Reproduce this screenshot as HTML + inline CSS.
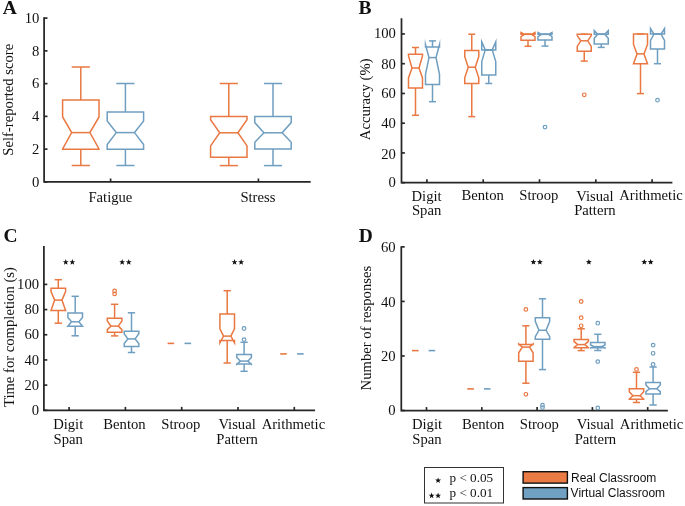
<!DOCTYPE html>
<html><head><meta charset="utf-8"><style>
html,body{margin:0;padding:0;background:#fff;}
body{width:685px;height:506px;overflow:hidden;}
svg{display:block;will-change:transform;}
text{fill:#111;}
</style></head><body>
<svg width="685" height="506" viewBox="0 0 685 506">
<text x="2.8" y="14.3" text-anchor="start" font-family="&quot;Liberation Serif&quot;, serif" font-size="19.5" font-weight="bold" >A</text>
<path d="M44.1,18.1 L44.1,181.9 L309.8,181.9" fill="none" stroke="#262626" stroke-width="1.75" stroke-linecap="square"/>
<line x1="44.1" y1="181.9" x2="47.5" y2="181.9" stroke="#262626" stroke-width="1.6624999999999999"/>
<text x="39.3" y="186.6" text-anchor="end" font-family="&quot;Liberation Serif&quot;, serif" font-size="14.67" font-weight="normal" >0</text>
<line x1="44.1" y1="149.14" x2="47.5" y2="149.14" stroke="#262626" stroke-width="1.6624999999999999"/>
<text x="39.3" y="153.84" text-anchor="end" font-family="&quot;Liberation Serif&quot;, serif" font-size="14.67" font-weight="normal" >2</text>
<line x1="44.1" y1="116.38" x2="47.5" y2="116.38" stroke="#262626" stroke-width="1.6624999999999999"/>
<text x="39.3" y="121.08" text-anchor="end" font-family="&quot;Liberation Serif&quot;, serif" font-size="14.67" font-weight="normal" >4</text>
<line x1="44.1" y1="83.62" x2="47.5" y2="83.62" stroke="#262626" stroke-width="1.6624999999999999"/>
<text x="39.3" y="88.32" text-anchor="end" font-family="&quot;Liberation Serif&quot;, serif" font-size="14.67" font-weight="normal" >6</text>
<line x1="44.1" y1="50.86" x2="47.5" y2="50.86" stroke="#262626" stroke-width="1.6624999999999999"/>
<text x="39.3" y="55.56" text-anchor="end" font-family="&quot;Liberation Serif&quot;, serif" font-size="14.67" font-weight="normal" >8</text>
<line x1="44.1" y1="18.1" x2="47.5" y2="18.1" stroke="#262626" stroke-width="1.6624999999999999"/>
<text x="39.3" y="22.8" text-anchor="end" font-family="&quot;Liberation Serif&quot;, serif" font-size="14.67" font-weight="normal" >10</text>
<line x1="110.6" y1="181.9" x2="110.6" y2="178.5" stroke="#262626" stroke-width="1.6624999999999999"/>
<line x1="258.4" y1="181.9" x2="258.4" y2="178.5" stroke="#262626" stroke-width="1.6624999999999999"/>
<text x="110.4" y="201.5" text-anchor="middle" font-family="&quot;Liberation Serif&quot;, serif" font-size="14.67" font-weight="normal" >Fatigue</text>
<text x="257.9" y="201.5" text-anchor="middle" font-family="&quot;Liberation Serif&quot;, serif" font-size="14.67" font-weight="normal" >Stress</text>
<text x="0" y="0" text-anchor="middle" font-family="&quot;Liberation Serif&quot;, serif" font-size="14.67" transform="translate(13,99.7) rotate(-90)">Self-reported score</text>
<polygon points="62.6,149.2 62.6,148.9 71.7,132.6 62.6,117 62.6,99.9 99,99.9 99,117 89.9,132.6 99,148.9 99,149.2" fill="none" stroke="#E97842" stroke-width="1.5" stroke-linejoin="miter" stroke-miterlimit="10"/>
<line x1="71.7" y1="132.6" x2="89.9" y2="132.6" stroke="#E97842" stroke-width="1.5"/>
<line x1="80.8" y1="99.9" x2="80.8" y2="67" stroke="#E97842" stroke-width="1.5"/>
<line x1="71.7" y1="67" x2="89.9" y2="67" stroke="#E97842" stroke-width="1.5"/>
<line x1="80.8" y1="149.2" x2="80.8" y2="165.5" stroke="#E97842" stroke-width="1.5"/>
<line x1="71.7" y1="165.5" x2="89.9" y2="165.5" stroke="#E97842" stroke-width="1.5"/>
<polygon points="107.2,149.2 107.2,144.6 116.3,132.6 107.2,120.9 107.2,112 143.6,112 143.6,120.9 134.5,132.6 143.6,144.6 143.6,149.2" fill="none" stroke="#6F9EC0" stroke-width="1.5" stroke-linejoin="miter" stroke-miterlimit="10"/>
<line x1="116.3" y1="132.6" x2="134.5" y2="132.6" stroke="#6F9EC0" stroke-width="1.5"/>
<line x1="125.4" y1="112" x2="125.4" y2="83.5" stroke="#6F9EC0" stroke-width="1.5"/>
<line x1="116.3" y1="83.5" x2="134.5" y2="83.5" stroke="#6F9EC0" stroke-width="1.5"/>
<line x1="125.4" y1="149.2" x2="125.4" y2="165.5" stroke="#6F9EC0" stroke-width="1.5"/>
<line x1="116.3" y1="165.5" x2="134.5" y2="165.5" stroke="#6F9EC0" stroke-width="1.5"/>
<polygon points="210.6,157.3 210.6,145.9 219.7,132.8 210.6,119.8 210.6,116.6 247,116.6 247,119.8 237.9,132.8 247,145.9 247,157.3" fill="none" stroke="#E97842" stroke-width="1.5" stroke-linejoin="miter" stroke-miterlimit="10"/>
<line x1="219.7" y1="132.8" x2="237.9" y2="132.8" stroke="#E97842" stroke-width="1.5"/>
<line x1="228.8" y1="116.6" x2="228.8" y2="83.5" stroke="#E97842" stroke-width="1.5"/>
<line x1="219.7" y1="83.5" x2="237.9" y2="83.5" stroke="#E97842" stroke-width="1.5"/>
<line x1="228.8" y1="157.3" x2="228.8" y2="165.6" stroke="#E97842" stroke-width="1.5"/>
<line x1="219.7" y1="165.6" x2="237.9" y2="165.6" stroke="#E97842" stroke-width="1.5"/>
<polygon points="254.8,149 254.8,142.3 263.9,132.8 254.8,122.6 254.8,116.6 291.2,116.6 291.2,122.6 282.1,132.8 291.2,142.3 291.2,149" fill="none" stroke="#6F9EC0" stroke-width="1.5" stroke-linejoin="miter" stroke-miterlimit="10"/>
<line x1="263.9" y1="132.8" x2="282.1" y2="132.8" stroke="#6F9EC0" stroke-width="1.5"/>
<line x1="273" y1="116.6" x2="273" y2="83.5" stroke="#6F9EC0" stroke-width="1.5"/>
<line x1="263.9" y1="83.5" x2="282.1" y2="83.5" stroke="#6F9EC0" stroke-width="1.5"/>
<line x1="273" y1="149" x2="273" y2="165.6" stroke="#6F9EC0" stroke-width="1.5"/>
<line x1="263.9" y1="165.6" x2="282.1" y2="165.6" stroke="#6F9EC0" stroke-width="1.5"/>
<text x="358.6" y="14.3" text-anchor="start" font-family="&quot;Liberation Serif&quot;, serif" font-size="19.5" font-weight="bold" >B</text>
<path d="M401.5,19.1 L401.5,182.7 L671.5,182.7" fill="none" stroke="#262626" stroke-width="1.75" stroke-linecap="square"/>
<line x1="401.5" y1="182.7" x2="404.9" y2="182.7" stroke="#262626" stroke-width="1.6624999999999999"/>
<text x="395.9" y="187.4" text-anchor="end" font-family="&quot;Liberation Serif&quot;, serif" font-size="14.67" font-weight="normal" >0</text>
<line x1="401.5" y1="152.95" x2="404.9" y2="152.95" stroke="#262626" stroke-width="1.6624999999999999"/>
<text x="395.9" y="158.75" text-anchor="end" font-family="&quot;Liberation Serif&quot;, serif" font-size="14.67" font-weight="normal" >20</text>
<line x1="401.5" y1="123.2" x2="404.9" y2="123.2" stroke="#262626" stroke-width="1.6624999999999999"/>
<text x="395.9" y="127.9" text-anchor="end" font-family="&quot;Liberation Serif&quot;, serif" font-size="14.67" font-weight="normal" >40</text>
<line x1="401.5" y1="93.45" x2="404.9" y2="93.45" stroke="#262626" stroke-width="1.6624999999999999"/>
<text x="395.9" y="98.15" text-anchor="end" font-family="&quot;Liberation Serif&quot;, serif" font-size="14.67" font-weight="normal" >60</text>
<line x1="401.5" y1="63.7" x2="404.9" y2="63.7" stroke="#262626" stroke-width="1.6624999999999999"/>
<text x="395.9" y="69.3" text-anchor="end" font-family="&quot;Liberation Serif&quot;, serif" font-size="14.67" font-weight="normal" >80</text>
<line x1="401.5" y1="33.95" x2="404.9" y2="33.95" stroke="#262626" stroke-width="1.6624999999999999"/>
<text x="395.9" y="38.45" text-anchor="end" font-family="&quot;Liberation Serif&quot;, serif" font-size="14.67" font-weight="normal" >100</text>
<line x1="426.9" y1="182.7" x2="426.9" y2="179.3" stroke="#262626" stroke-width="1.6624999999999999"/>
<line x1="483.2" y1="182.7" x2="483.2" y2="179.3" stroke="#262626" stroke-width="1.6624999999999999"/>
<line x1="539.5" y1="182.7" x2="539.5" y2="179.3" stroke="#262626" stroke-width="1.6624999999999999"/>
<line x1="595.8" y1="182.7" x2="595.8" y2="179.3" stroke="#262626" stroke-width="1.6624999999999999"/>
<line x1="652.1" y1="182.7" x2="652.1" y2="179.3" stroke="#262626" stroke-width="1.6624999999999999"/>
<text x="426.6" y="200.8" text-anchor="middle" font-family="&quot;Liberation Serif&quot;, serif" font-size="14.67" font-weight="normal" >Digit</text>
<text x="426.6" y="215.15" text-anchor="middle" font-family="&quot;Liberation Serif&quot;, serif" font-size="14.67" font-weight="normal" >Span</text>
<text x="482.7" y="200.1" text-anchor="middle" font-family="&quot;Liberation Serif&quot;, serif" font-size="14.67" font-weight="normal" >Benton</text>
<text x="538.8" y="200.1" text-anchor="middle" font-family="&quot;Liberation Serif&quot;, serif" font-size="14.67" font-weight="normal" >Stroop</text>
<text x="594.9" y="200.8" text-anchor="middle" font-family="&quot;Liberation Serif&quot;, serif" font-size="14.67" font-weight="normal" >Visual</text>
<text x="594.9" y="215.15" text-anchor="middle" font-family="&quot;Liberation Serif&quot;, serif" font-size="14.67" font-weight="normal" >Pattern</text>
<text x="651" y="200.1" text-anchor="middle" font-family="&quot;Liberation Serif&quot;, serif" font-size="14.67" font-weight="normal" >Arithmetic</text>
<text x="0" y="0" text-anchor="middle" font-family="&quot;Liberation Serif&quot;, serif" font-size="14.67" transform="translate(370.3,99.3) rotate(-90)">Accuracy (%)</text>
<polygon points="408.5,88.1 408.5,78 412,68 408.5,56 408.5,54.2 422.5,54.2 422.5,56 419,68 422.5,78 422.5,88.1" fill="none" stroke="#E97842" stroke-width="1.5" stroke-linejoin="miter" stroke-miterlimit="10"/>
<line x1="412" y1="68" x2="419" y2="68" stroke="#E97842" stroke-width="1.5"/>
<line x1="415.5" y1="54.2" x2="415.5" y2="47.5" stroke="#E97842" stroke-width="1.5"/>
<line x1="412" y1="47.5" x2="419" y2="47.5" stroke="#E97842" stroke-width="1.5"/>
<line x1="415.5" y1="88.1" x2="415.5" y2="115.3" stroke="#E97842" stroke-width="1.5"/>
<line x1="412" y1="115.3" x2="419" y2="115.3" stroke="#E97842" stroke-width="1.5"/>
<polygon points="425.5,84.5 425.5,74.4 429,57.6 425.5,44.7 425.5,47.1 439.5,47.1 439.5,44.7 436,57.6 439.5,74.4 439.5,84.5" fill="none" stroke="#6F9EC0" stroke-width="1.5" stroke-linejoin="miter" stroke-miterlimit="10"/>
<line x1="429" y1="57.6" x2="436" y2="57.6" stroke="#6F9EC0" stroke-width="1.5"/>
<line x1="432.5" y1="47.1" x2="432.5" y2="40.9" stroke="#6F9EC0" stroke-width="1.5"/>
<line x1="429" y1="40.9" x2="436" y2="40.9" stroke="#6F9EC0" stroke-width="1.5"/>
<line x1="432.5" y1="84.5" x2="432.5" y2="101.7" stroke="#6F9EC0" stroke-width="1.5"/>
<line x1="429" y1="101.7" x2="436" y2="101.7" stroke="#6F9EC0" stroke-width="1.5"/>
<polygon points="464.75,83.4 464.75,77.6 468.25,67.2 464.75,56.7 464.75,50.4 478.75,50.4 478.75,56.7 475.25,67.2 478.75,77.6 478.75,83.4" fill="none" stroke="#E97842" stroke-width="1.5" stroke-linejoin="miter" stroke-miterlimit="10"/>
<line x1="468.25" y1="67.2" x2="475.25" y2="67.2" stroke="#E97842" stroke-width="1.5"/>
<line x1="471.75" y1="50.4" x2="471.75" y2="34.2" stroke="#E97842" stroke-width="1.5"/>
<line x1="468.25" y1="34.2" x2="475.25" y2="34.2" stroke="#E97842" stroke-width="1.5"/>
<line x1="471.75" y1="83.4" x2="471.75" y2="116.6" stroke="#E97842" stroke-width="1.5"/>
<line x1="468.25" y1="116.6" x2="475.25" y2="116.6" stroke="#E97842" stroke-width="1.5"/>
<polygon points="481.75,75.1 481.75,61.5 485.25,49.9 481.75,41.8 481.75,49.9 495.75,49.9 495.75,41.8 492.25,49.9 495.75,61.5 495.75,75.1" fill="none" stroke="#6F9EC0" stroke-width="1.5" stroke-linejoin="miter" stroke-miterlimit="10"/>
<line x1="485.25" y1="49.9" x2="492.25" y2="49.9" stroke="#6F9EC0" stroke-width="1.5"/>
<line x1="485.25" y1="49.9" x2="492.25" y2="49.9" stroke="#6F9EC0" stroke-width="1.5"/>
<line x1="488.75" y1="75.1" x2="488.75" y2="83.5" stroke="#6F9EC0" stroke-width="1.5"/>
<line x1="485.25" y1="83.5" x2="492.25" y2="83.5" stroke="#6F9EC0" stroke-width="1.5"/>
<polygon points="521,40.3 521,36.6 524.5,34.3 521,32.41 521,34.3 535,34.3 535,32.41 531.5,34.3 535,36.6 535,40.3" fill="none" stroke="#E97842" stroke-width="1.5" stroke-linejoin="miter" stroke-miterlimit="10"/>
<line x1="524.5" y1="34.3" x2="531.5" y2="34.3" stroke="#E97842" stroke-width="1.5"/>
<line x1="524.5" y1="34.3" x2="531.5" y2="34.3" stroke="#E97842" stroke-width="1.5"/>
<line x1="528" y1="40.3" x2="528" y2="46.3" stroke="#E97842" stroke-width="1.5"/>
<line x1="524.5" y1="46.3" x2="531.5" y2="46.3" stroke="#E97842" stroke-width="1.5"/>
<polygon points="538,40.1 538,36.6 541.5,34.3 538,32.41 538,34.3 552,34.3 552,32.41 548.5,34.3 552,36.6 552,40.1" fill="none" stroke="#6F9EC0" stroke-width="1.5" stroke-linejoin="miter" stroke-miterlimit="10"/>
<line x1="541.5" y1="34.3" x2="548.5" y2="34.3" stroke="#6F9EC0" stroke-width="1.5"/>
<line x1="541.5" y1="34.3" x2="548.5" y2="34.3" stroke="#6F9EC0" stroke-width="1.5"/>
<line x1="545" y1="40.1" x2="545" y2="46.1" stroke="#6F9EC0" stroke-width="1.5"/>
<line x1="541.5" y1="46.1" x2="548.5" y2="46.1" stroke="#6F9EC0" stroke-width="1.5"/>
<circle cx="545" cy="127.1" r="1.8" fill="none" stroke="#6F9EC0" stroke-width="1.2"/>
<polygon points="577.25,51.2 577.25,46.4 580.75,40.8 577.25,35.6 577.25,34.2 591.25,34.2 591.25,35.6 587.75,40.8 591.25,46.4 591.25,51.2" fill="none" stroke="#E97842" stroke-width="1.5" stroke-linejoin="miter" stroke-miterlimit="10"/>
<line x1="580.75" y1="40.8" x2="587.75" y2="40.8" stroke="#E97842" stroke-width="1.5"/>
<line x1="580.75" y1="34.2" x2="587.75" y2="34.2" stroke="#E97842" stroke-width="1.5"/>
<line x1="584.25" y1="51.2" x2="584.25" y2="61.1" stroke="#E97842" stroke-width="1.5"/>
<line x1="580.75" y1="61.1" x2="587.75" y2="61.1" stroke="#E97842" stroke-width="1.5"/>
<circle cx="584.25" cy="94.8" r="1.8" fill="none" stroke="#E97842" stroke-width="1.2"/>
<polygon points="594.25,44.1 594.25,38.3 597.75,34.2 594.25,30.51 594.25,34.2 608.25,34.2 608.25,30.51 604.75,34.2 608.25,38.3 608.25,44.1" fill="none" stroke="#6F9EC0" stroke-width="1.5" stroke-linejoin="miter" stroke-miterlimit="10"/>
<line x1="597.75" y1="34.2" x2="604.75" y2="34.2" stroke="#6F9EC0" stroke-width="1.5"/>
<line x1="597.75" y1="34.2" x2="604.75" y2="34.2" stroke="#6F9EC0" stroke-width="1.5"/>
<line x1="601.25" y1="44.1" x2="601.25" y2="47.4" stroke="#6F9EC0" stroke-width="1.5"/>
<line x1="597.75" y1="47.4" x2="604.75" y2="47.4" stroke="#6F9EC0" stroke-width="1.5"/>
<polygon points="633.5,63.7 633.5,63.7 637,53.9 633.5,44.4 633.5,34 647.5,34 647.5,44.4 644,53.9 647.5,63.7 647.5,63.7" fill="none" stroke="#E97842" stroke-width="1.5" stroke-linejoin="miter" stroke-miterlimit="10"/>
<line x1="637" y1="53.9" x2="644" y2="53.9" stroke="#E97842" stroke-width="1.5"/>
<line x1="637" y1="34" x2="644" y2="34" stroke="#E97842" stroke-width="1.5"/>
<line x1="640.5" y1="63.7" x2="640.5" y2="93.6" stroke="#E97842" stroke-width="1.5"/>
<line x1="637" y1="93.6" x2="644" y2="93.6" stroke="#E97842" stroke-width="1.5"/>
<polygon points="650.5,49.1 650.5,40.4 654,34 650.5,28.62 650.5,34 664.5,34 664.5,28.62 661,34 664.5,40.4 664.5,49.1" fill="none" stroke="#6F9EC0" stroke-width="1.5" stroke-linejoin="miter" stroke-miterlimit="10"/>
<line x1="654" y1="34" x2="661" y2="34" stroke="#6F9EC0" stroke-width="1.5"/>
<line x1="654" y1="34" x2="661" y2="34" stroke="#6F9EC0" stroke-width="1.5"/>
<line x1="657.5" y1="49.1" x2="657.5" y2="63.7" stroke="#6F9EC0" stroke-width="1.5"/>
<line x1="654" y1="63.7" x2="661" y2="63.7" stroke="#6F9EC0" stroke-width="1.5"/>
<circle cx="657.5" cy="100.2" r="1.8" fill="none" stroke="#6F9EC0" stroke-width="1.2"/>
<text x="3.4" y="242.3" text-anchor="start" font-family="&quot;Liberation Serif&quot;, serif" font-size="19.5" font-weight="bold" >C</text>
<path d="M43.9,246.9 L43.9,410.3 L314.2,410.3" fill="none" stroke="#262626" stroke-width="1.75" stroke-linecap="square"/>
<line x1="43.9" y1="410.3" x2="47.3" y2="410.3" stroke="#262626" stroke-width="1.6624999999999999"/>
<text x="39.1" y="415" text-anchor="end" font-family="&quot;Liberation Serif&quot;, serif" font-size="14.67" font-weight="normal" >0</text>
<line x1="43.9" y1="385.12" x2="47.3" y2="385.12" stroke="#262626" stroke-width="1.6624999999999999"/>
<text x="39.1" y="389.82" text-anchor="end" font-family="&quot;Liberation Serif&quot;, serif" font-size="14.67" font-weight="normal" >20</text>
<line x1="43.9" y1="359.94" x2="47.3" y2="359.94" stroke="#262626" stroke-width="1.6624999999999999"/>
<text x="39.1" y="364.64" text-anchor="end" font-family="&quot;Liberation Serif&quot;, serif" font-size="14.67" font-weight="normal" >40</text>
<line x1="43.9" y1="334.76" x2="47.3" y2="334.76" stroke="#262626" stroke-width="1.6624999999999999"/>
<text x="39.1" y="339.46" text-anchor="end" font-family="&quot;Liberation Serif&quot;, serif" font-size="14.67" font-weight="normal" >60</text>
<line x1="43.9" y1="309.58" x2="47.3" y2="309.58" stroke="#262626" stroke-width="1.6624999999999999"/>
<text x="39.1" y="314.28" text-anchor="end" font-family="&quot;Liberation Serif&quot;, serif" font-size="14.67" font-weight="normal" >80</text>
<line x1="43.9" y1="284.4" x2="47.3" y2="284.4" stroke="#262626" stroke-width="1.6624999999999999"/>
<text x="39.1" y="289.1" text-anchor="end" font-family="&quot;Liberation Serif&quot;, serif" font-size="14.67" font-weight="normal" >100</text>
<line x1="69.1" y1="410.3" x2="69.1" y2="406.9" stroke="#262626" stroke-width="1.6624999999999999"/>
<line x1="125.4" y1="410.3" x2="125.4" y2="406.9" stroke="#262626" stroke-width="1.6624999999999999"/>
<line x1="181.7" y1="410.3" x2="181.7" y2="406.9" stroke="#262626" stroke-width="1.6624999999999999"/>
<line x1="238" y1="410.3" x2="238" y2="406.9" stroke="#262626" stroke-width="1.6624999999999999"/>
<line x1="294.3" y1="410.3" x2="294.3" y2="406.9" stroke="#262626" stroke-width="1.6624999999999999"/>
<text x="68.2" y="429.4" text-anchor="middle" font-family="&quot;Liberation Serif&quot;, serif" font-size="14.67" font-weight="normal" >Digit</text>
<text x="68.2" y="443.75" text-anchor="middle" font-family="&quot;Liberation Serif&quot;, serif" font-size="14.67" font-weight="normal" >Span</text>
<text x="124.5" y="428.7" text-anchor="middle" font-family="&quot;Liberation Serif&quot;, serif" font-size="14.67" font-weight="normal" >Benton</text>
<text x="180.8" y="428.7" text-anchor="middle" font-family="&quot;Liberation Serif&quot;, serif" font-size="14.67" font-weight="normal" >Stroop</text>
<text x="237.1" y="429.4" text-anchor="middle" font-family="&quot;Liberation Serif&quot;, serif" font-size="14.67" font-weight="normal" >Visual</text>
<text x="237.1" y="443.75" text-anchor="middle" font-family="&quot;Liberation Serif&quot;, serif" font-size="14.67" font-weight="normal" >Pattern</text>
<text x="293.4" y="428.7" text-anchor="middle" font-family="&quot;Liberation Serif&quot;, serif" font-size="14.67" font-weight="normal" >Arithmetic</text>
<text x="0" y="0" text-anchor="middle" font-family="&quot;Liberation Serif&quot;, serif" font-size="14.67" transform="translate(14,337.1) rotate(-90)">Time for completion (s)</text>
<polygon points="51,310.4 51,310.4 54.65,300.1 51,291.6 51,288.3 65.6,288.3 65.6,291.6 61.95,300.1 65.6,310.4 65.6,310.4" fill="none" stroke="#E97842" stroke-width="1.5" stroke-linejoin="miter" stroke-miterlimit="10"/>
<line x1="54.65" y1="300.1" x2="61.95" y2="300.1" stroke="#E97842" stroke-width="1.5"/>
<line x1="58.3" y1="288.3" x2="58.3" y2="279.7" stroke="#E97842" stroke-width="1.5"/>
<line x1="54.65" y1="279.7" x2="61.95" y2="279.7" stroke="#E97842" stroke-width="1.5"/>
<line x1="58.3" y1="310.4" x2="58.3" y2="323.2" stroke="#E97842" stroke-width="1.5"/>
<line x1="54.65" y1="323.2" x2="61.95" y2="323.2" stroke="#E97842" stroke-width="1.5"/>
<polygon points="67.9,326.3 67.9,326.3 71.55,321.8 67.9,317.4 67.9,312.9 82.5,312.9 82.5,317.4 78.85,321.8 82.5,326.3 82.5,326.3" fill="none" stroke="#6F9EC0" stroke-width="1.5" stroke-linejoin="miter" stroke-miterlimit="10"/>
<line x1="71.55" y1="321.8" x2="78.85" y2="321.8" stroke="#6F9EC0" stroke-width="1.5"/>
<line x1="75.2" y1="312.9" x2="75.2" y2="296.3" stroke="#6F9EC0" stroke-width="1.5"/>
<line x1="71.55" y1="296.3" x2="78.85" y2="296.3" stroke="#6F9EC0" stroke-width="1.5"/>
<line x1="75.2" y1="326.3" x2="75.2" y2="335.8" stroke="#6F9EC0" stroke-width="1.5"/>
<line x1="71.55" y1="335.8" x2="78.85" y2="335.8" stroke="#6F9EC0" stroke-width="1.5"/>
<polygon points="107.3,332.3 107.3,329.6 110.95,326.1 107.3,320.9 107.3,318.2 121.9,318.2 121.9,320.9 118.25,326.1 121.9,329.6 121.9,332.3" fill="none" stroke="#E97842" stroke-width="1.5" stroke-linejoin="miter" stroke-miterlimit="10"/>
<line x1="110.95" y1="326.1" x2="118.25" y2="326.1" stroke="#E97842" stroke-width="1.5"/>
<line x1="114.6" y1="318.2" x2="114.6" y2="304.3" stroke="#E97842" stroke-width="1.5"/>
<line x1="110.95" y1="304.3" x2="118.25" y2="304.3" stroke="#E97842" stroke-width="1.5"/>
<line x1="114.6" y1="332.3" x2="114.6" y2="335.9" stroke="#E97842" stroke-width="1.5"/>
<line x1="110.95" y1="335.9" x2="118.25" y2="335.9" stroke="#E97842" stroke-width="1.5"/>
<circle cx="114.6" cy="291" r="1.8" fill="none" stroke="#E97842" stroke-width="1.2"/>
<circle cx="114.6" cy="293.9" r="1.8" fill="none" stroke="#E97842" stroke-width="1.2"/>
<polygon points="124.2,346.5 124.2,343.6 127.85,338.9 124.2,333.8 124.2,331.3 138.8,331.3 138.8,333.8 135.15,338.9 138.8,343.6 138.8,346.5" fill="none" stroke="#6F9EC0" stroke-width="1.5" stroke-linejoin="miter" stroke-miterlimit="10"/>
<line x1="127.85" y1="338.9" x2="135.15" y2="338.9" stroke="#6F9EC0" stroke-width="1.5"/>
<line x1="131.5" y1="331.3" x2="131.5" y2="312.8" stroke="#6F9EC0" stroke-width="1.5"/>
<line x1="127.85" y1="312.8" x2="135.15" y2="312.8" stroke="#6F9EC0" stroke-width="1.5"/>
<line x1="131.5" y1="346.5" x2="131.5" y2="352.5" stroke="#6F9EC0" stroke-width="1.5"/>
<line x1="127.85" y1="352.5" x2="135.15" y2="352.5" stroke="#6F9EC0" stroke-width="1.5"/>
<line x1="167.6" y1="343.4" x2="174.2" y2="343.4" stroke="#E97842" stroke-width="1.6"/>
<line x1="184.5" y1="343.4" x2="191.1" y2="343.4" stroke="#6F9EC0" stroke-width="1.6"/>
<polygon points="219.9,340.6 219.9,342.83 223.55,336.1 219.9,328.9 219.9,314.1 234.5,314.1 234.5,328.9 230.85,336.1 234.5,342.83 234.5,340.6" fill="none" stroke="#E97842" stroke-width="1.5" stroke-linejoin="miter" stroke-miterlimit="10"/>
<line x1="223.55" y1="336.1" x2="230.85" y2="336.1" stroke="#E97842" stroke-width="1.5"/>
<line x1="227.2" y1="314.1" x2="227.2" y2="290.7" stroke="#E97842" stroke-width="1.5"/>
<line x1="223.55" y1="290.7" x2="230.85" y2="290.7" stroke="#E97842" stroke-width="1.5"/>
<line x1="227.2" y1="340.6" x2="227.2" y2="363" stroke="#E97842" stroke-width="1.5"/>
<line x1="223.55" y1="363" x2="230.85" y2="363" stroke="#E97842" stroke-width="1.5"/>
<polygon points="236.8,364 236.8,364.2 240.45,361.1 236.8,357.5 236.8,354.6 251.4,354.6 251.4,357.5 247.75,361.1 251.4,364.2 251.4,364" fill="none" stroke="#6F9EC0" stroke-width="1.5" stroke-linejoin="miter" stroke-miterlimit="10"/>
<line x1="240.45" y1="361.1" x2="247.75" y2="361.1" stroke="#6F9EC0" stroke-width="1.5"/>
<line x1="244.1" y1="354.6" x2="244.1" y2="342.3" stroke="#6F9EC0" stroke-width="1.5"/>
<line x1="240.45" y1="342.3" x2="247.75" y2="342.3" stroke="#6F9EC0" stroke-width="1.5"/>
<line x1="244.1" y1="364" x2="244.1" y2="371.3" stroke="#6F9EC0" stroke-width="1.5"/>
<line x1="240.45" y1="371.3" x2="247.75" y2="371.3" stroke="#6F9EC0" stroke-width="1.5"/>
<circle cx="244.1" cy="328.5" r="1.8" fill="none" stroke="#6F9EC0" stroke-width="1.2"/>
<circle cx="244.1" cy="339.6" r="1.8" fill="none" stroke="#6F9EC0" stroke-width="1.2"/>
<line x1="280.2" y1="353.9" x2="286.8" y2="353.9" stroke="#E97842" stroke-width="1.6"/>
<line x1="297.1" y1="353.9" x2="303.7" y2="353.9" stroke="#6F9EC0" stroke-width="1.6"/>
<polygon points="65.75,259.1 66.52,261.15 68.7,261.24 66.99,262.6 67.57,264.71 65.75,263.5 63.93,264.71 64.51,262.6 62.8,261.24 64.98,261.15" fill="#111"/>
<polygon points="72.35,259.1 73.12,261.15 75.3,261.24 73.59,262.6 74.17,264.71 72.35,263.5 70.53,264.71 71.11,262.6 69.4,261.24 71.58,261.15" fill="#111"/>
<polygon points="122.15,259.1 122.92,261.15 125.1,261.24 123.39,262.6 123.97,264.71 122.15,263.5 120.33,264.71 120.91,262.6 119.2,261.24 121.38,261.15" fill="#111"/>
<polygon points="128.75,259.1 129.52,261.15 131.7,261.24 129.99,262.6 130.57,264.71 128.75,263.5 126.93,264.71 127.51,262.6 125.8,261.24 127.98,261.15" fill="#111"/>
<polygon points="234.55,259.1 235.32,261.15 237.5,261.24 235.79,262.6 236.37,264.71 234.55,263.5 232.73,264.71 233.31,262.6 231.6,261.24 233.78,261.15" fill="#111"/>
<polygon points="241.15,259.1 241.92,261.15 244.1,261.24 242.39,262.6 242.97,264.71 241.15,263.5 239.33,264.71 239.91,262.6 238.2,261.24 240.38,261.15" fill="#111"/>
<text x="358.7" y="242.3" text-anchor="start" font-family="&quot;Liberation Serif&quot;, serif" font-size="19.5" font-weight="bold" >D</text>
<path d="M401.3,247.1 L401.3,410.5 L667,410.5" fill="none" stroke="#262626" stroke-width="1.75" stroke-linecap="square"/>
<line x1="401.3" y1="410.5" x2="404.7" y2="410.5" stroke="#262626" stroke-width="1.6624999999999999"/>
<text x="395.7" y="415.2" text-anchor="end" font-family="&quot;Liberation Serif&quot;, serif" font-size="14.67" font-weight="normal" >0</text>
<line x1="401.3" y1="355.96" x2="404.7" y2="355.96" stroke="#262626" stroke-width="1.6624999999999999"/>
<text x="395.7" y="360.66" text-anchor="end" font-family="&quot;Liberation Serif&quot;, serif" font-size="14.67" font-weight="normal" >20</text>
<line x1="401.3" y1="301.42" x2="404.7" y2="301.42" stroke="#262626" stroke-width="1.6624999999999999"/>
<text x="395.7" y="306.72" text-anchor="end" font-family="&quot;Liberation Serif&quot;, serif" font-size="14.67" font-weight="normal" >40</text>
<line x1="401.3" y1="246.88" x2="404.7" y2="246.88" stroke="#262626" stroke-width="1.6624999999999999"/>
<text x="395.7" y="251.58" text-anchor="end" font-family="&quot;Liberation Serif&quot;, serif" font-size="14.67" font-weight="normal" >60</text>
<line x1="426.5" y1="410.5" x2="426.5" y2="407.1" stroke="#262626" stroke-width="1.6624999999999999"/>
<line x1="481.8" y1="410.5" x2="481.8" y2="407.1" stroke="#262626" stroke-width="1.6624999999999999"/>
<line x1="537.1" y1="410.5" x2="537.1" y2="407.1" stroke="#262626" stroke-width="1.6624999999999999"/>
<line x1="592.4" y1="410.5" x2="592.4" y2="407.1" stroke="#262626" stroke-width="1.6624999999999999"/>
<line x1="647.7" y1="410.5" x2="647.7" y2="407.1" stroke="#262626" stroke-width="1.6624999999999999"/>
<text x="427" y="429.4" text-anchor="middle" font-family="&quot;Liberation Serif&quot;, serif" font-size="14.67" font-weight="normal" >Digit</text>
<text x="427" y="443.75" text-anchor="middle" font-family="&quot;Liberation Serif&quot;, serif" font-size="14.67" font-weight="normal" >Span</text>
<text x="483.15" y="428.7" text-anchor="middle" font-family="&quot;Liberation Serif&quot;, serif" font-size="14.67" font-weight="normal" >Benton</text>
<text x="539.3" y="428.7" text-anchor="middle" font-family="&quot;Liberation Serif&quot;, serif" font-size="14.67" font-weight="normal" >Stroop</text>
<text x="595.45" y="429.4" text-anchor="middle" font-family="&quot;Liberation Serif&quot;, serif" font-size="14.67" font-weight="normal" >Visual</text>
<text x="595.45" y="443.75" text-anchor="middle" font-family="&quot;Liberation Serif&quot;, serif" font-size="14.67" font-weight="normal" >Pattern</text>
<text x="651.6" y="428.7" text-anchor="middle" font-family="&quot;Liberation Serif&quot;, serif" font-size="14.67" font-weight="normal" >Arithmetic</text>
<text x="0" y="0" text-anchor="middle" font-family="&quot;Liberation Serif&quot;, serif" font-size="14.67" transform="translate(371.1,328.1) rotate(-90)">Number of responses</text>
<line x1="412" y1="350.6" x2="418.6" y2="350.6" stroke="#E97842" stroke-width="1.6"/>
<line x1="428.6" y1="350.6" x2="435.2" y2="350.6" stroke="#6F9EC0" stroke-width="1.6"/>
<line x1="467.3" y1="388.9" x2="473.9" y2="388.9" stroke="#E97842" stroke-width="1.6"/>
<line x1="483.9" y1="388.9" x2="490.5" y2="388.9" stroke="#6F9EC0" stroke-width="1.6"/>
<polygon points="518.7,361.2 518.7,352.8 522.3,347.1 518.7,343.85 518.7,344.4 533.1,344.4 533.1,343.85 529.5,347.1 533.1,352.8 533.1,361.2" fill="none" stroke="#E97842" stroke-width="1.5" stroke-linejoin="miter" stroke-miterlimit="10"/>
<line x1="522.3" y1="347.1" x2="529.5" y2="347.1" stroke="#E97842" stroke-width="1.5"/>
<line x1="525.9" y1="344.4" x2="525.9" y2="325.8" stroke="#E97842" stroke-width="1.5"/>
<line x1="522.3" y1="325.8" x2="529.5" y2="325.8" stroke="#E97842" stroke-width="1.5"/>
<line x1="525.9" y1="361.2" x2="525.9" y2="383.2" stroke="#E97842" stroke-width="1.5"/>
<line x1="522.3" y1="383.2" x2="529.5" y2="383.2" stroke="#E97842" stroke-width="1.5"/>
<circle cx="525.9" cy="309.4" r="1.8" fill="none" stroke="#E97842" stroke-width="1.2"/>
<circle cx="525.9" cy="394.3" r="1.8" fill="none" stroke="#E97842" stroke-width="1.2"/>
<polygon points="535.3,339.2 535.3,336.7 538.9,330.3 535.3,321.4 535.3,317.7 549.7,317.7 549.7,321.4 546.1,330.3 549.7,336.7 549.7,339.2" fill="none" stroke="#6F9EC0" stroke-width="1.5" stroke-linejoin="miter" stroke-miterlimit="10"/>
<line x1="538.9" y1="330.3" x2="546.1" y2="330.3" stroke="#6F9EC0" stroke-width="1.5"/>
<line x1="542.5" y1="317.7" x2="542.5" y2="298.8" stroke="#6F9EC0" stroke-width="1.5"/>
<line x1="538.9" y1="298.8" x2="546.1" y2="298.8" stroke="#6F9EC0" stroke-width="1.5"/>
<line x1="542.5" y1="339.2" x2="542.5" y2="369.6" stroke="#6F9EC0" stroke-width="1.5"/>
<line x1="538.9" y1="369.6" x2="546.1" y2="369.6" stroke="#6F9EC0" stroke-width="1.5"/>
<circle cx="542.5" cy="405.2" r="1.8" fill="none" stroke="#6F9EC0" stroke-width="1.2"/>
<circle cx="542.5" cy="407.6" r="1.8" fill="none" stroke="#6F9EC0" stroke-width="1.2"/>
<polygon points="574,347.8 574,347.6 577.6,344.6 574,341.4 574,339.6 588.4,339.6 588.4,341.4 584.8,344.6 588.4,347.6 588.4,347.8" fill="none" stroke="#E97842" stroke-width="1.5" stroke-linejoin="miter" stroke-miterlimit="10"/>
<line x1="577.6" y1="344.6" x2="584.8" y2="344.6" stroke="#E97842" stroke-width="1.5"/>
<line x1="581.2" y1="339.6" x2="581.2" y2="328.8" stroke="#E97842" stroke-width="1.5"/>
<line x1="577.6" y1="328.8" x2="584.8" y2="328.8" stroke="#E97842" stroke-width="1.5"/>
<line x1="581.2" y1="347.8" x2="581.2" y2="350.6" stroke="#E97842" stroke-width="1.5"/>
<line x1="577.6" y1="350.6" x2="584.8" y2="350.6" stroke="#E97842" stroke-width="1.5"/>
<circle cx="581.2" cy="301.5" r="1.8" fill="none" stroke="#E97842" stroke-width="1.2"/>
<circle cx="581.2" cy="317.7" r="1.8" fill="none" stroke="#E97842" stroke-width="1.2"/>
<circle cx="581.2" cy="325.8" r="1.8" fill="none" stroke="#E97842" stroke-width="1.2"/>
<polygon points="590.6,347.8 590.6,348.02 594.2,346.6 590.6,345 590.6,342.6 605,342.6 605,345 601.4,346.6 605,348.02 605,347.8" fill="none" stroke="#6F9EC0" stroke-width="1.5" stroke-linejoin="miter" stroke-miterlimit="10"/>
<line x1="594.2" y1="346.6" x2="601.4" y2="346.6" stroke="#6F9EC0" stroke-width="1.5"/>
<line x1="597.8" y1="342.6" x2="597.8" y2="334.3" stroke="#6F9EC0" stroke-width="1.5"/>
<line x1="594.2" y1="334.3" x2="601.4" y2="334.3" stroke="#6F9EC0" stroke-width="1.5"/>
<line x1="597.8" y1="347.8" x2="597.8" y2="350.5" stroke="#6F9EC0" stroke-width="1.5"/>
<line x1="594.2" y1="350.5" x2="601.4" y2="350.5" stroke="#6F9EC0" stroke-width="1.5"/>
<circle cx="597.8" cy="323.2" r="1.8" fill="none" stroke="#6F9EC0" stroke-width="1.2"/>
<circle cx="597.8" cy="361.6" r="1.8" fill="none" stroke="#6F9EC0" stroke-width="1.2"/>
<circle cx="597.8" cy="407.9" r="1.8" fill="none" stroke="#6F9EC0" stroke-width="1.2"/>
<polygon points="629.3,399.2 629.3,399 632.9,395.7 629.3,391.7 629.3,388.8 643.7,388.8 643.7,391.7 640.1,395.7 643.7,399 643.7,399.2" fill="none" stroke="#E97842" stroke-width="1.5" stroke-linejoin="miter" stroke-miterlimit="10"/>
<line x1="632.9" y1="395.7" x2="640.1" y2="395.7" stroke="#E97842" stroke-width="1.5"/>
<line x1="636.5" y1="388.8" x2="636.5" y2="372.3" stroke="#E97842" stroke-width="1.5"/>
<line x1="632.9" y1="372.3" x2="640.1" y2="372.3" stroke="#E97842" stroke-width="1.5"/>
<line x1="636.5" y1="399.2" x2="636.5" y2="402.5" stroke="#E97842" stroke-width="1.5"/>
<line x1="632.9" y1="402.5" x2="640.1" y2="402.5" stroke="#E97842" stroke-width="1.5"/>
<circle cx="636.5" cy="369.4" r="1.8" fill="none" stroke="#E97842" stroke-width="1.2"/>
<polygon points="645.9,393.9 645.9,391.7 649.5,388.8 645.9,385 645.9,382.6 660.3,382.6 660.3,385 656.7,388.8 660.3,391.7 660.3,393.9" fill="none" stroke="#6F9EC0" stroke-width="1.5" stroke-linejoin="miter" stroke-miterlimit="10"/>
<line x1="649.5" y1="388.8" x2="656.7" y2="388.8" stroke="#6F9EC0" stroke-width="1.5"/>
<line x1="653.1" y1="382.6" x2="653.1" y2="367" stroke="#6F9EC0" stroke-width="1.5"/>
<line x1="649.5" y1="367" x2="656.7" y2="367" stroke="#6F9EC0" stroke-width="1.5"/>
<line x1="653.1" y1="393.9" x2="653.1" y2="405" stroke="#6F9EC0" stroke-width="1.5"/>
<line x1="649.5" y1="405" x2="656.7" y2="405" stroke="#6F9EC0" stroke-width="1.5"/>
<circle cx="653.1" cy="345.1" r="1.8" fill="none" stroke="#6F9EC0" stroke-width="1.2"/>
<circle cx="653.1" cy="353.3" r="1.8" fill="none" stroke="#6F9EC0" stroke-width="1.2"/>
<circle cx="653.1" cy="364.4" r="1.8" fill="none" stroke="#6F9EC0" stroke-width="1.2"/>
<polygon points="533.45,259 534.22,261.05 536.4,261.14 534.69,262.5 535.27,264.61 533.45,263.4 531.63,264.61 532.21,262.5 530.5,261.14 532.68,261.05" fill="#111"/>
<polygon points="539.85,259 540.62,261.05 542.8,261.14 541.09,262.5 541.67,264.61 539.85,263.4 538.03,264.61 538.61,262.5 536.9,261.14 539.08,261.05" fill="#111"/>
<polygon points="588.85,259 589.62,261.05 591.8,261.14 590.09,262.5 590.67,264.61 588.85,263.4 587.03,264.61 587.61,262.5 585.9,261.14 588.08,261.05" fill="#111"/>
<polygon points="644.3,259 645.07,261.05 647.25,261.14 645.54,262.5 646.12,264.61 644.3,263.4 642.48,264.61 643.06,262.5 641.35,261.14 643.53,261.05" fill="#111"/>
<polygon points="650.65,259 651.42,261.05 653.6,261.14 651.89,262.5 652.47,264.61 650.65,263.4 648.83,264.61 649.41,262.5 647.7,261.14 649.88,261.05" fill="#111"/>
<rect x="424.5" y="467.5" width="79" height="35.5" fill="none" stroke="#333" stroke-width="1"/>
<polygon points="438.1,477.4 438.87,479.45 441.05,479.54 439.34,480.9 439.92,483.01 438.1,481.8 436.28,483.01 436.86,480.9 435.15,479.54 437.33,479.45" fill="#111"/>
<polygon points="431.6,492.6 432.37,494.65 434.55,494.74 432.84,496.1 433.42,498.21 431.6,497 429.78,498.21 430.36,496.1 428.65,494.74 430.83,494.65" fill="#111"/>
<polygon points="438.1,492.6 438.87,494.65 441.05,494.74 439.34,496.1 439.92,498.21 438.1,497 436.28,498.21 436.86,496.1 435.15,494.74 437.33,494.65" fill="#111"/>
<text x="449.5" y="482.1" text-anchor="start" font-family="&quot;Liberation Serif&quot;, serif" font-size="13.2" font-weight="normal" >p &lt; 0.05</text>
<text x="449.5" y="497.3" text-anchor="start" font-family="&quot;Liberation Serif&quot;, serif" font-size="13.2" font-weight="normal" >p &lt; 0.01</text>
<rect x="523.1" y="471.7" width="44.3" height="11.4" fill="#EA7B45" stroke="#111" stroke-width="1.4"/>
<rect x="523.1" y="487.6" width="44.3" height="11.4" fill="#70A0C2" stroke="#111" stroke-width="1.4"/>
<text x="571" y="481.6" text-anchor="start" font-family="&quot;Liberation Sans&quot;, sans-serif" font-size="12.0" font-weight="normal" >Real Classroom</text>
<text x="570.6" y="497.3" text-anchor="start" font-family="&quot;Liberation Sans&quot;, sans-serif" font-size="12.0" font-weight="normal" >Virtual Classroom</text>
</svg>
</body></html>
